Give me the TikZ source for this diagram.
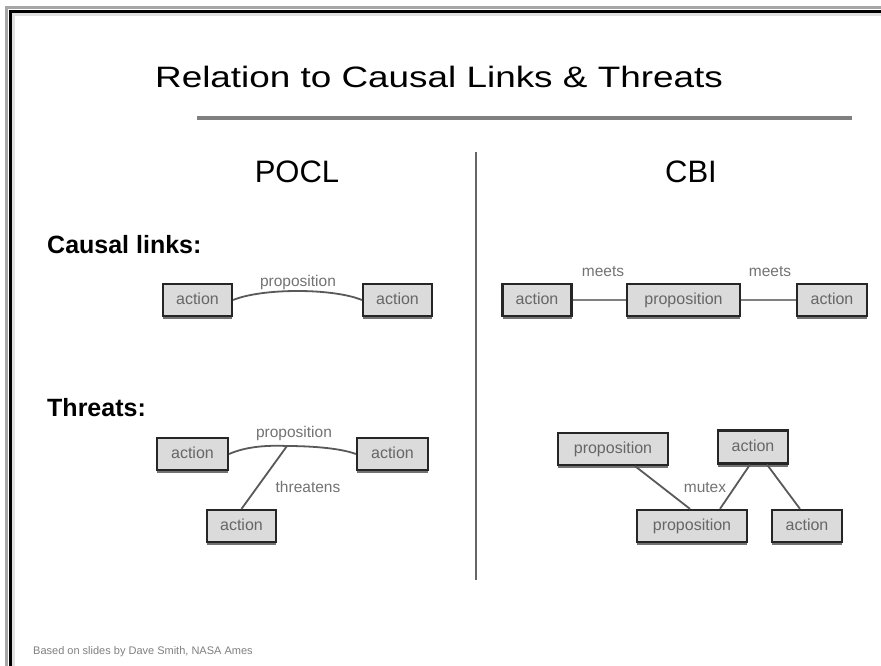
\documentclass[tikz,border=0pt]{standalone}
\usepackage{fontspec}
\setmainfont{Liberation Sans}
\usetikzlibrary{shadows,calc}
\tikzset{
  box/.style={draw=black!85, line width=2.2pt, fill=black!14, minimum height=32pt, inner sep=0pt,
    font=\fontsize{16}{16}\selectfont, text=black!60, text height=11pt, text depth=3pt,
    drop shadow={shadow xshift=0pt, shadow yshift=-3pt, fill=black!55, opacity=1}},
  lbl/.style={font=\fontsize{15.5}{15.5}\selectfont, text=black!55, inner sep=1pt},
  link/.style={draw=black!65, line width=1.8pt},
  head/.style={font=\fontsize{31}{31}\selectfont},
  sect/.style={font=\bfseries\fontsize{25}{25}\selectfont, anchor=west, inner sep=0pt}
}
\begin{document}
\begin{tikzpicture}[x=1pt,y=-1pt]
\useasboundingbox (0,0) rectangle (881,666);
\fill[white] (0,0) rectangle (881,666);
% slide frame
\draw[black!35, line width=3pt] (6.5,666) -- (6.5,7.5) -- (881,7.5);
\draw[black, line width=3pt] (10,666) -- (10,11.5) -- (881,11.5);
\draw[black!12, line width=3pt] (13,666) -- (13,15) -- (881,15);
% title
\node[inner sep=0pt] (title) at (439,77) {\scalebox{1.25}[1]{\fontsize{29.5}{29.5}\selectfont Relation to Causal Links \& Threats}};
\coordinate (r1) at (197,118);
\coordinate (r2) at (852,118);
\draw[black!50, line width=3.5pt] (r1) -- (r2);
% divider
\coordinate (d1) at (476,152);
\coordinate (d2) at (476,580);
\draw[black!60, line width=2pt] (d1) -- (d2);
\node[head] (pocl) at (297,172) {POCL};
\node[head] (cbi) at (691,172) {CBI};
\node[sect] (cl) at (47,245) {Causal links:};
\node[sect] (th) at (47,408) {Threats:};
% POCL causal link
\node[box, minimum width=69pt] (a1) at (197.5,300) {action};
\node[box, minimum width=69pt] (a2) at (397.5,300) {action};
\draw[link] (a1.east) .. controls (262,288) and (333,288) .. (a2.west);
\node[lbl] (pl1) at (298,282) {proposition};
% CBI causal link
\node[box, minimum width=69pt] (c1) at (537,300) {action};
\node[box, minimum width=113pt] (cp) at (683.5,300) {proposition};
\node[box, minimum width=70pt] (c2) at (832,300) {action};
\draw[link, draw=black!50] (c1.east) -- (cp.west);
\draw[link, draw=black!50] (cp.east) -- (c2.west);
\node[lbl] (m1) at (603,272) {meets};
\node[lbl] (m2) at (770,272) {meets};
% POCL threat
\node[box, minimum width=71pt] (t1) at (192.5,454) {action};
\node[box, minimum width=71pt] (t2) at (392.5,454) {action};
\node[box, minimum width=69pt] (t3) at (241.5,526) {action};
\coordinate (tm) at (287,446);
\draw[link] (t1.east) .. controls (245,447) and (265,445) .. (tm) .. controls (310,446) and (340,448) .. (t2.west);
\draw[link] (tm) -- (t3.north);
\node[lbl] (pl2) at (294,433) {proposition};
\node[lbl] (thr) at (308,487) {threatens};
% CBI threat
\node[box, minimum width=110pt] (p1) at (613,449) {proposition};
\node[box, minimum width=70pt, minimum height=33pt] (a3) at (753,447) {action};
\node[box, minimum width=110pt] (p2) at (692,526) {proposition};
\node[box, minimum width=70pt] (a4) at (807,526) {action};
\draw[link] ($(p1.south)+(22,0)$) -- ($(p2.north)+(-2,0)$);
\draw[link] ($(a3.south)+(-3,0)$) -- ($(p2.north)+(28,0)$);
\draw[link] ($(a3.south)+(14,0)$) -- ($(a4.north)+(-7,0)$);
\node[lbl] (mx) at (705,488) {mutex};
% footer
\node[anchor=west, inner sep=0pt, font=\fontsize{11}{11}\selectfont, text=black!50] (foot) at (33,652) {Based on slides by Dave Smith, NASA Ames};
\end{tikzpicture}
\end{document}
